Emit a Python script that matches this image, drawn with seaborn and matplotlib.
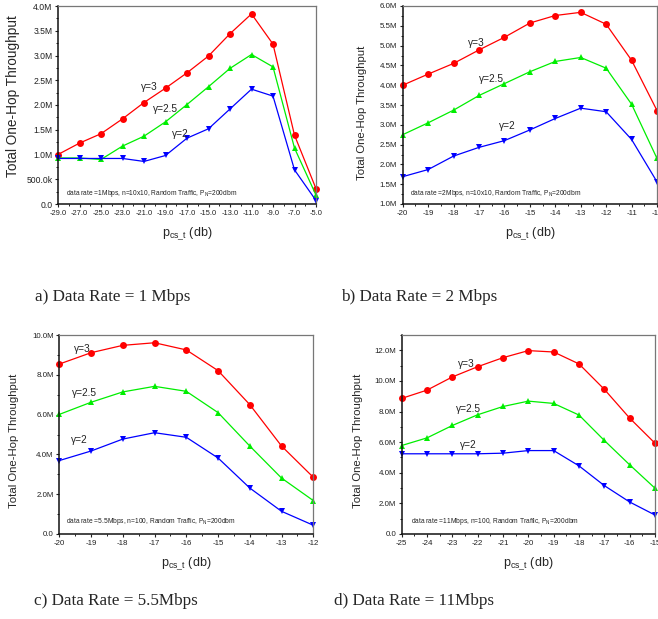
import numpy as np
import pandas as pd
import seaborn as sns
import matplotlib
matplotlib.use('Agg')
import matplotlib.pyplot as plt
from matplotlib.ticker import MultipleLocator, FixedLocator, FuncFormatter

# ---- data (throughput in M) ----
x_a = [-29, -27, -25, -23, -21, -19, -17, -15, -13, -11, -9, -7, -5]
g3_a = [1.00, 1.23, 1.42, 1.72, 2.05, 2.34, 2.65, 2.99, 3.44, 3.84, 3.23, 1.39, 0.31]
g25_a = [0.93, 0.93, 0.90, 1.17, 1.37, 1.66, 2.01, 2.37, 2.74, 3.02, 2.77, 1.13, 0.18]
g2_a = [0.92, 0.92, 0.92, 0.92, 0.86, 0.98, 1.33, 1.52, 1.92, 2.32, 2.18, 0.69, 0.07]

x_b = [-20, -19, -18, -17, -16, -15, -14, -13, -12, -11, -10]
g3_b = [4.00, 4.28, 4.55, 4.89, 5.21, 5.57, 5.76, 5.84, 5.54, 4.63, 3.36]
g25_b = [2.75, 3.05, 3.37, 3.74, 4.04, 4.34, 4.60, 4.70, 4.43, 3.52, 2.15]
g2_b = [1.69, 1.87, 2.21, 2.43, 2.60, 2.87, 3.16, 3.42, 3.33, 2.63, 1.56]

x_c = [-20, -19, -18, -17, -16, -15, -14, -13, -12]
g3_c = [8.54, 9.11, 9.48, 9.61, 9.25, 8.21, 6.50, 4.42, 2.85]
g25_c = [6.01, 6.62, 7.14, 7.42, 7.17, 6.10, 4.42, 2.81, 1.68]
g2_c = [3.69, 4.17, 4.77, 5.09, 4.86, 3.82, 2.31, 1.14, 0.44]

x_d = [-25, -24, -23, -22, -21, -20, -19, -18, -17, -16, -15]
g3_d = [8.86, 9.40, 10.26, 10.93, 11.52, 11.98, 11.89, 11.11, 9.45, 7.57, 5.93]
g25_d = [5.78, 6.28, 7.09, 7.79, 8.33, 8.68, 8.53, 7.77, 6.11, 4.52, 2.99]
g2_d = [5.24, 5.24, 5.24, 5.24, 5.28, 5.45, 5.45, 4.45, 3.16, 2.09, 1.24]

notes = ["data rate =1Mbps, n=10x10, Random Traffic, P$_N$=200dbm",
         "data rate =2Mbps, n=10x10, Random Traffic, P$_N$=200dbm",
         "data rate =5.5Mbps, n=100, Random Traffic, P$_N$=200dbm",
         "data rate =11Mbps, n=100, Random Traffic, P$_N$=200dbm"]
captions = ["a) Data Rate = 1 Mbps", "b) Data Rate = 2 Mbps",
            "c) Data Rate = 5.5Mbps", "d) Data Rate = 11Mbps"]
gammas = ["\u03b3=3", "\u03b3=2.5", "\u03b3=2"]

sns.set_style('ticks')
plt.rcParams['font.family'] = ['Liberation Sans', 'DejaVu Sans']
plt.rcParams['mathtext.default'] = 'regular'

W, H = 658, 619
fig = plt.figure(figsize=(W/100, H/100), dpi=100)

def box(l, r, t, b):
    return [l/W, (H-b)/H, (r-l)/W, (b-t)/H]

def fmt_a(v, pos):
    if abs(v) < 1e-9:
        return '0.0'
    if v < 1:
        return '%.1fk' % (v*1000)
    return '%.1fM' % v

fmt_m = FuncFormatter(lambda v, p: '0.0' if abs(v) < 1e-9 else '%.1fM' % v)

panels = [
    dict(x=x_a, ys=[g3_a, g25_a, g2_a], pos=box(58, 316, 6, 204), xlim=(-29, -5), ylim=(0, 4),
         xmaj=x_a, xmin=1, ymaj=0.5, ymin=0.25, xfmt='%.1f', yfmt=FuncFormatter(fmt_a),
         lab=[(-21.3, 2.36), (-20.2, 1.91), (-18.4, 1.41)], note=(-28.3, 0.22),
         ylc=(-0.147, 0.545), yls=9.8, xtl=5.4, ytl=6.2, cap=(113, 297)),
    dict(x=x_b, ys=[g3_b, g25_b, g2_b], pos=box(402.7, 657, 6, 204), xlim=(-20, -10), ylim=(1, 6),
         xmaj=x_b, xmin=0.5, ymaj=0.5, ymin=0.25, xfmt='%d', yfmt=fmt_m,
         lab=[(-17.45, 5.07), (-17.0, 4.15), (-16.2, 2.97)], note=(-19.7, 1.27),
         ylc=(-0.139, 0.46), yls=8.2, xtl=5.7, ytl=5.7, cap=(419, 297)),
    dict(x=x_c, ys=[g3_c, g25_c, g2_c], pos=box(59.3, 313.3, 335, 534), xlim=(-20, -12), ylim=(0, 10),
         xmaj=x_c, xmin=0.5, ymaj=2, ymin=1, xfmt='%d', yfmt=fmt_m,
         lab=[(-19.55, 9.28), (-19.6, 7.10), (-19.62, 4.72)], note=(-19.8, 0.64),
         ylc=(-0.157, 0.467), yls=8.2, xtl=5.7, ytl=5.7, cap=(116, 601)),
    dict(x=x_d, ys=[g3_d, g25_d, g2_d], pos=box(401.7, 655, 335, 534), xlim=(-25, -15), ylim=(0, 13),
         xmaj=x_d, xmin=0.5, ymaj=2, ymin=1, xfmt='%d', yfmt=fmt_m,
         lab=[(-22.77, 11.13), (-22.85, 8.16), (-22.7, 5.83)], note=(-24.65, 0.80),
         ylc=(-0.153, 0.467), yls=8.2, xtl=5.7, ytl=5.7, cap=(414, 601)),
]

palette = {gammas[0]: '#ff0000', gammas[1]: '#00ee00', gammas[2]: '#0000ff'}
markers = {gammas[0]: 'o', gammas[1]: '^', gammas[2]: 'v'}

for i, p in enumerate(panels):
    ax = fig.add_axes(p['pos'])
    df = pd.DataFrame({'x': p['x']*3,
                       'y': p['ys'][0] + p['ys'][1] + p['ys'][2],
                       'g': sum([[g]*len(p['x']) for g in gammas], [])})
    sns.lineplot(data=df, x='x', y='y', hue='g', style='g', palette=palette,
                 markers=markers, dashes=False, lw=0.9, markersize=5,
                 markeredgewidth=0, legend=False, ax=ax, clip_on=False)
    ax.set_xlim(*p['xlim'])
    ax.set_ylim(*p['ylim'])
    ax.xaxis.set_major_locator(FixedLocator(p['xmaj']))
    ax.xaxis.set_minor_locator(MultipleLocator(p['xmin']))
    ax.yaxis.set_major_locator(MultipleLocator(p['ymaj']))
    ax.yaxis.set_minor_locator(MultipleLocator(p['ymin']))
    ax.xaxis.set_major_formatter(FuncFormatter(lambda v, q, f=p['xfmt']: f % v))
    ax.yaxis.set_major_formatter(p['yfmt'])
    ax.tick_params(which='major', direction='out', length=2.5, width=0.8,
                   pad=1.5, colors='#222222')
    ax.tick_params(axis='x', which='major', labelsize=p['xtl'])
    ax.tick_params(axis='y', which='major', labelsize=p['ytl'])
    ax.tick_params(which='minor', direction='out', length=1.5, width=0.7, colors='#222222')
    for side in ['left', 'bottom']:
        ax.spines[side].set_color('#111111')
        ax.spines[side].set_linewidth(1.1)
    for side in ['top', 'right']:
        ax.spines[side].set_visible(True)
        ax.spines[side].set_color('#777777')
        ax.spines[side].set_linewidth(0.9)
    ax.set_ylabel('Total One-Hop Throughput', fontsize=p['yls'])
    ax.yaxis.set_label_coords(*p['ylc'])
    ax.set_xlabel('p$_{cs\\_t}$ (db)', fontsize=9)
    ax.xaxis.set_label_coords(0.5, -0.11)
    for (tx, ty), g in zip(p['lab'], gammas):
        ax.text(tx, ty, g, fontsize=7.3, ha='left', va='center', color='#222222')
    ax.text(p['note'][0], p['note'][1], notes[i], fontsize=4.8, ha='left',
            va='center', color='#222222')
    fig.text(p['cap'][0]/W, 1 - p['cap'][1]/H, captions[i], fontsize=12.3,
             family='Liberation Serif', ha='center', va='center')

fig.savefig('out.png', dpi=100)
